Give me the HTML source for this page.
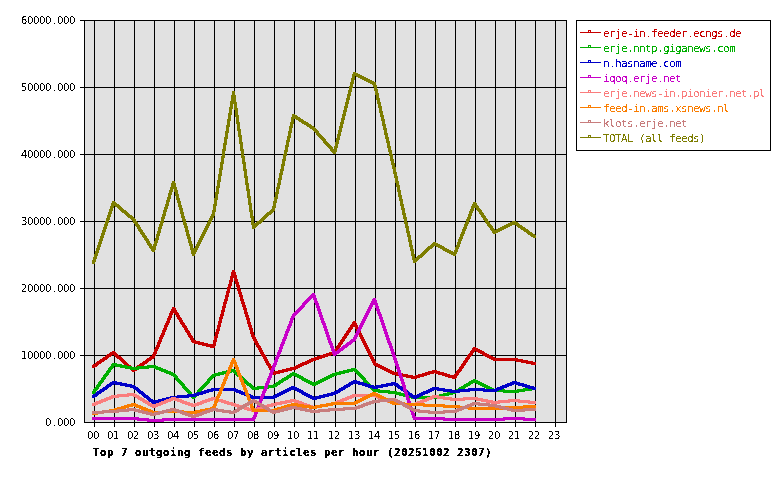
<!DOCTYPE html>
<html lang="en"><head><meta charset="utf-8"><title>Top 7 outgoing feeds by articles per hour</title>
<style>html,body{margin:0;padding:0;background:#fff;overflow:hidden}svg{display:block}text{font-family:"DejaVu Sans Mono","Liberation Mono",monospace;}.s{font-size:11px}.b{font-size:11px;font-weight:bold}.n{font-family:"DejaVu Sans","Liberation Sans",sans-serif;font-size:10px}</style></head><body>
<svg width="780" height="480" viewBox="0 0 780 480" shape-rendering="crispEdges">
<defs><filter id="crisp" x="0" y="0" width="780" height="480" filterUnits="userSpaceOnUse" color-interpolation-filters="sRGB"><feComponentTransfer><feFuncA type="discrete" tableValues="0 1"/></feComponentTransfer></filter><filter id="crispb" x="0" y="0" width="780" height="480" filterUnits="userSpaceOnUse" color-interpolation-filters="sRGB"><feComponentTransfer><feFuncA type="discrete" tableValues="0 1 1"/></feComponentTransfer></filter></defs>
<rect x="0" y="0" width="780" height="480" fill="#fff"/>
<rect x="84" y="20" width="483" height="403" fill="#e1e1e1"/>
<path d="M80 20.5H567M80 87.5H567M80 154.5H567M80 221.5H567M80 288.5H567M80 355.5H567M84 422.5H567M94.5 20V427M114.5 20V427M134.5 20V427M154.5 20V427M174.5 20V427M194.5 20V427M214.5 20V427M234.5 20V427M254.5 20V427M274.5 20V427M294.5 20V427M314.5 20V427M335.5 20V427M355.5 20V427M375.5 20V427M395.5 20V427M415.5 20V427M435.5 20V427M455.5 20V427M475.5 20V427M495.5 20V427M515.5 20V427M535.5 20V427M555.5 20V427M84.5 20V423M566.5 20V423" stroke="#000" stroke-width="1" fill="none"/>
<path d="M92.5 365v3M93.5 364v4M94.5 364v4M95.5 363v4M96.5 362v5M97.5 361v5M98.5 361v4M99.5 360v4M100.5 359v5M101.5 359v4M102.5 358v4M103.5 357v5M104.5 357v4M105.5 356v4M106.5 355v5M107.5 354v5M108.5 354v4M109.5 353v4M110.5 352v5M111.5 352v4M112.5 351v4M113.5 351v4M114.5 351v5M115.5 352v5M116.5 353v5M117.5 354v5M118.5 355v4M119.5 356v4M120.5 356v5M121.5 357v5M122.5 358v5M123.5 359v5M124.5 360v5M125.5 361v5M126.5 362v5M127.5 363v5M128.5 364v4M129.5 365v4M130.5 365v5M131.5 366v5M132.5 367v5M133.5 368v4M134.5 368v4M135.5 367v4M136.5 366v5M137.5 365v5M138.5 365v4M139.5 364v4M140.5 363v5M141.5 363v4M142.5 362v4M143.5 361v5M144.5 361v4M145.5 360v4M146.5 359v5M147.5 358v5M148.5 358v4M149.5 357v4M150.5 356v5M151.5 356v4M152.5 354v5M153.5 352v7M154.5 349v9M155.5 347v9M156.5 345v9M157.5 342v9M158.5 340v9M159.5 337v10M160.5 335v9M161.5 333v9M162.5 330v9M163.5 328v9M164.5 325v10M165.5 323v9M166.5 321v9M167.5 318v9M168.5 316v9M169.5 313v10M170.5 311v9M171.5 309v9M172.5 307v8M173.5 307v6M174.5 307v7M175.5 308v7M176.5 310v7M177.5 312v7M178.5 313v7M179.5 315v7M180.5 317v7M181.5 318v7M182.5 320v7M183.5 322v6M184.5 323v7M185.5 325v7M186.5 326v7M187.5 328v7M188.5 330v7M189.5 331v7M190.5 333v7M191.5 335v7M192.5 336v7M193.5 338v5M194.5 340v4M195.5 340v4M196.5 341v3M197.5 341v3M198.5 341v4M199.5 341v4M200.5 342v3M201.5 342v3M202.5 342v4M203.5 342v4M204.5 343v3M205.5 343v3M206.5 343v4M207.5 343v4M208.5 344v3M209.5 344v3M210.5 344v4M211.5 344v4M212.5 344v4M213.5 340v8M214.5 336v12M215.5 332v14M216.5 329v13M217.5 325v13M218.5 321v13M219.5 317v14M220.5 314v13M221.5 310v13M222.5 306v13M223.5 302v14M224.5 299v13M225.5 295v13M226.5 291v13M227.5 287v14M228.5 284v13M229.5 280v13M230.5 276v13M231.5 272v14M232.5 270v12M233.5 270v8M234.5 270v11M235.5 272v12M236.5 275v12M237.5 279v12M238.5 282v12M239.5 285v12M240.5 289v12M241.5 292v12M242.5 295v12M243.5 299v11M244.5 302v12M245.5 305v12M246.5 308v12M247.5 312v12M248.5 315v12M249.5 318v12M250.5 322v12M251.5 325v12M252.5 328v11M253.5 332v9M254.5 335v8M255.5 337v8M256.5 339v8M257.5 341v7M258.5 343v7M259.5 345v7M260.5 346v8M261.5 348v8M262.5 350v7M263.5 352v7M264.5 354v7M265.5 355v8M266.5 357v8M267.5 359v7M268.5 361v7M269.5 363v7M270.5 364v8M271.5 366v8M272.5 368v7M273.5 370v5M274.5 371v4M275.5 371v4M276.5 371v3M277.5 371v3M278.5 370v4M279.5 370v4M280.5 370v3M281.5 370v3M282.5 369v4M283.5 369v4M284.5 369v3M285.5 369v3M286.5 368v4M287.5 368v4M288.5 368v3M289.5 368v3M290.5 367v4M291.5 367v4M292.5 367v3M293.5 367v3M294.5 366v4M295.5 366v4M296.5 365v4M297.5 365v4M298.5 364v4M299.5 364v4M300.5 363v4M301.5 363v4M302.5 362v4M303.5 362v4M304.5 362v3M305.5 361v4M306.5 361v4M307.5 360v4M308.5 360v4M309.5 359v4M310.5 359v4M311.5 358v4M312.5 358v4M313.5 358v3M314.5 357v4M315.5 357v4M316.5 357v3M317.5 356v4M318.5 356v4M319.5 356v3M320.5 355v4M321.5 355v4M322.5 355v3M323.5 354v4M324.5 354v4M325.5 354v3M326.5 353v4M327.5 353v4M328.5 353v3M329.5 352v4M330.5 352v4M331.5 352v3M332.5 351v4M333.5 351v4M334.5 349v5M335.5 348v6M336.5 346v7M337.5 345v6M338.5 343v7M339.5 342v6M340.5 340v7M341.5 339v6M342.5 337v7M343.5 336v6M344.5 334v7M345.5 333v6M346.5 331v7M347.5 330v6M348.5 328v7M349.5 327v6M350.5 325v7M351.5 324v6M352.5 322v7M353.5 321v6M354.5 321v6M355.5 321v8M356.5 323v8M357.5 325v8M358.5 327v8M359.5 329v8M360.5 331v8M361.5 333v8M362.5 335v8M363.5 337v8M364.5 339v8M365.5 341v8M366.5 343v8M367.5 345v8M368.5 347v8M369.5 349v8M370.5 351v8M371.5 353v8M372.5 355v8M373.5 357v8M374.5 359v7M375.5 361v5M376.5 363v4M377.5 363v4M378.5 364v4M379.5 364v4M380.5 365v4M381.5 365v4M382.5 366v4M383.5 366v4M384.5 367v4M385.5 367v4M386.5 368v4M387.5 368v4M388.5 369v4M389.5 369v4M390.5 370v4M391.5 370v4M392.5 371v4M393.5 371v4M394.5 372v3M395.5 372v3M396.5 372v4M397.5 372v4M398.5 373v3M399.5 373v3M400.5 373v3M401.5 373v4M402.5 373v4M403.5 374v3M404.5 374v3M405.5 374v3M406.5 374v4M407.5 374v4M408.5 375v3M409.5 375v3M410.5 375v3M411.5 375v4M412.5 375v4M413.5 376v3M414.5 376v3M415.5 375v4M416.5 375v4M417.5 375v3M418.5 374v4M419.5 374v4M420.5 374v3M421.5 374v3M422.5 373v4M423.5 373v4M424.5 373v3M425.5 372v4M426.5 372v4M427.5 372v3M428.5 371v4M429.5 371v4M430.5 371v3M431.5 371v3M432.5 370v4M433.5 370v4M434.5 370v3M435.5 370v4M436.5 370v4M437.5 371v3M438.5 371v4M439.5 371v4M440.5 372v3M441.5 372v3M442.5 372v4M443.5 372v4M444.5 373v3M445.5 373v4M446.5 373v4M447.5 374v3M448.5 374v4M449.5 374v4M450.5 375v3M451.5 375v3M452.5 375v4M453.5 375v4M454.5 374v5M455.5 373v6M456.5 371v7M457.5 370v6M458.5 369v6M459.5 367v6M460.5 366v6M461.5 364v7M462.5 363v6M463.5 361v7M464.5 360v6M465.5 358v7M466.5 357v6M467.5 355v7M468.5 354v6M469.5 353v6M470.5 351v6M471.5 350v6M472.5 348v7M473.5 347v6M474.5 347v5M475.5 347v4M476.5 348v4M477.5 348v4M478.5 349v4M479.5 349v4M480.5 350v4M481.5 350v4M482.5 351v4M483.5 351v5M484.5 352v4M485.5 353v4M486.5 353v4M487.5 354v4M488.5 354v4M489.5 355v4M490.5 355v4M491.5 356v4M492.5 356v4M493.5 357v4M494.5 357v4M495.5 358v3M496.5 358v3M497.5 358v3M498.5 358v3M499.5 358v3M500.5 358v3M501.5 358v3M502.5 358v3M503.5 358v3M504.5 358v3M505.5 358v3M506.5 358v3M507.5 358v3M508.5 358v3M509.5 358v3M510.5 358v3M511.5 358v3M512.5 358v3M513.5 358v3M514.5 358v3M515.5 358v3M516.5 358v4M517.5 358v4M518.5 359v3M519.5 359v3M520.5 359v3M521.5 359v4M522.5 359v4M523.5 360v3M524.5 360v3M525.5 360v3M526.5 360v4M527.5 360v4M528.5 361v3M529.5 361v3M530.5 361v3M531.5 361v4M532.5 361v4M533.5 362v3M534.5 362v3M535.5 362v3" stroke="#c80000" stroke-width="1" fill="none"/>
<path d="M112 363.5h5M111 364.5h11M111 365.5h16M147 365.5h9M110 366.5h4M115 366.5h17M137 366.5h21M109 367.5h5M120 367.5h41M108 368.5h5M125 368.5h24M154 368.5h9M351 368.5h5M108 369.5h4M130 369.5h9M156 369.5h10M230 369.5h5M347 369.5h10M107 370.5h4M159 370.5h9M226 370.5h10M343 370.5h15M106 371.5h5M161 371.5h10M222 371.5h15M339 371.5h14M354 371.5h5M106 372.5h4M164 372.5h9M218 372.5h14M233 372.5h5M292 372.5h3M335 372.5h14M355 372.5h5M105 373.5h4M166 373.5h9M214 373.5h14M234 373.5h5M290 373.5h7M332 373.5h13M356 373.5h5M104 374.5h5M169 374.5h7M212 374.5h12M235 374.5h6M289 374.5h10M330 374.5h11M357 374.5h5M103 375.5h5M171 375.5h6M211 375.5h9M236 375.5h6M287 375.5h14M328 375.5h9M358 375.5h5M103 376.5h4M173 376.5h5M210 376.5h6M237 376.5h6M286 376.5h6M295 376.5h8M326 376.5h8M359 376.5h5M102 377.5h4M174 377.5h4M209 377.5h5M239 377.5h5M284 377.5h7M297 377.5h7M324 377.5h8M360 377.5h5M101 378.5h5M175 378.5h4M208 378.5h5M240 378.5h5M282 378.5h7M299 378.5h7M322 378.5h8M361 378.5h5M101 379.5h4M175 379.5h5M207 379.5h5M241 379.5h5M281 379.5h7M301 379.5h7M320 379.5h8M362 379.5h4M473 379.5h3M100 380.5h4M176 380.5h5M207 380.5h4M242 380.5h5M279 380.5h7M302 380.5h8M318 380.5h8M363 380.5h4M471 380.5h7M99 381.5h5M177 381.5h5M206 381.5h4M243 381.5h5M278 381.5h6M304 381.5h8M316 381.5h8M363 381.5h5M469 381.5h11M98 382.5h5M178 382.5h5M205 382.5h5M244 382.5h5M276 382.5h7M306 382.5h16M364 382.5h5M468 382.5h14M98 383.5h4M179 383.5h5M204 383.5h5M245 383.5h6M275 383.5h6M308 383.5h12M365 383.5h5M466 383.5h7M476 383.5h8M97 384.5h4M180 384.5h5M203 384.5h5M246 384.5h6M273 384.5h7M310 384.5h8M366 384.5h5M464 384.5h7M478 384.5h8M96 385.5h5M181 385.5h4M202 385.5h5M247 385.5h6M267 385.5h11M312 385.5h4M367 385.5h5M463 385.5h7M480 385.5h8M96 386.5h4M182 386.5h4M201 386.5h5M249 386.5h5M257 386.5h20M368 386.5h5M461 386.5h7M482 386.5h8M95 387.5h4M182 387.5h5M200 387.5h5M250 387.5h25M369 387.5h5M459 387.5h7M484 387.5h8M530 387.5h6M94 388.5h5M183 388.5h5M199 388.5h5M251 388.5h18M370 388.5h5M458 388.5h7M486 388.5h8M523 388.5h13M93 389.5h5M184 389.5h5M198 389.5h5M252 389.5h7M371 389.5h9M456 389.5h7M488 389.5h17M517 389.5h19M93 390.5h4M185 390.5h5M197 390.5h5M372 390.5h18M454 390.5h7M490 390.5h42M92 391.5h4M186 391.5h5M197 391.5h4M373 391.5h24M451 391.5h9M492 391.5h33M92 392.5h4M187 392.5h5M196 392.5h4M378 392.5h23M447 392.5h11M503 392.5h16M92 393.5h3M188 393.5h4M195 393.5h5M388 393.5h17M443 393.5h13M189 394.5h4M194 394.5h5M395 394.5h14M439 394.5h14M189 395.5h9M399 395.5h14M435 395.5h14M190 396.5h7M403 396.5h42M191 397.5h5M407 397.5h34M192 398.5h3M411 398.5h26" stroke="#00af00" stroke-width="1" fill="none"/>
<path d="M353 380.5h4M112 381.5h5M351 381.5h9M512 381.5h5M110 382.5h12M349 382.5h15M391 382.5h5M510 382.5h10M109 383.5h18M348 383.5h19M386 383.5h12M507 383.5h17M107 384.5h7M115 384.5h17M346 384.5h7M358 384.5h12M381 384.5h18M505 384.5h9M515 384.5h12M106 385.5h6M120 385.5h15M344 385.5h7M362 385.5h12M376 385.5h17M394 385.5h6M502 385.5h10M518 385.5h12M105 386.5h6M125 386.5h11M291 386.5h4M343 386.5h7M365 386.5h23M396 386.5h6M500 386.5h9M522 386.5h12M103 387.5h6M130 387.5h8M289 387.5h8M341 387.5h7M368 387.5h15M397 387.5h6M432 387.5h7M497 387.5h10M525 387.5h11M102 388.5h6M133 388.5h6M211 388.5h25M287 388.5h12M339 388.5h7M372 388.5h6M398 388.5h7M430 388.5h15M468 388.5h17M495 388.5h9M528 388.5h8M100 389.5h7M134 389.5h6M207 389.5h31M285 389.5h16M338 389.5h7M400 389.5h6M428 389.5h24M458 389.5h44M532 389.5h4M99 390.5h6M136 390.5h5M204 390.5h37M283 390.5h8M295 390.5h8M336 390.5h7M401 390.5h7M426 390.5h8M437 390.5h62M97 391.5h7M137 391.5h6M201 391.5h12M234 391.5h9M281 391.5h8M297 391.5h7M334 391.5h7M403 391.5h6M423 391.5h9M443 391.5h27M483 391.5h14M96 392.5h6M138 392.5h6M197 392.5h12M236 392.5h10M279 392.5h8M299 392.5h7M331 392.5h9M404 392.5h6M421 392.5h9M450 392.5h10M95 393.5h6M139 393.5h6M194 393.5h12M239 393.5h9M277 393.5h8M301 393.5h7M327 393.5h11M406 393.5h6M419 393.5h9M93 394.5h6M141 394.5h5M187 394.5h16M241 394.5h10M275 394.5h8M302 394.5h8M323 394.5h13M407 394.5h6M417 394.5h8M92 395.5h6M142 395.5h6M177 395.5h22M244 395.5h9M273 395.5h8M304 395.5h8M319 395.5h14M408 395.5h15M92 396.5h5M143 396.5h6M170 396.5h26M246 396.5h33M306 396.5h8M315 396.5h14M410 396.5h11M92 397.5h3M144 397.5h6M166 397.5h23M249 397.5h28M308 397.5h17M411 397.5h8M146 398.5h5M162 398.5h17M251 398.5h24M310 398.5h11M413 398.5h4M147 399.5h6M158 399.5h14M312 399.5h5M148 400.5h20M149 401.5h15M151 402.5h9M152 403.5h4" stroke="#0000c8" stroke-width="1" fill="none"/>
<path d="M312 293.5h3M311 294.5h4M310 295.5h6M309 296.5h7M308 297.5h8M307 298.5h5M313 298.5h4M373 298.5h3M306 299.5h5M313 299.5h4M372 299.5h4M305 300.5h5M314 300.5h3M372 300.5h5M304 301.5h5M314 301.5h4M371 301.5h6M303 302.5h5M314 302.5h4M371 302.5h6M302 303.5h5M315 303.5h4M370 303.5h8M302 304.5h4M315 304.5h4M370 304.5h8M301 305.5h4M316 305.5h3M369 305.5h4M375 305.5h3M300 306.5h5M316 306.5h4M369 306.5h4M375 306.5h4M299 307.5h5M316 307.5h4M368 307.5h4M375 307.5h4M298 308.5h5M317 308.5h3M368 308.5h4M376 308.5h3M297 309.5h5M317 309.5h4M367 309.5h4M376 309.5h4M296 310.5h5M317 310.5h4M367 310.5h4M376 310.5h4M295 311.5h5M318 311.5h3M366 311.5h4M377 311.5h3M294 312.5h5M318 312.5h4M366 312.5h4M377 312.5h4M293 313.5h5M318 313.5h4M365 313.5h4M377 313.5h4M292 314.5h5M319 314.5h3M365 314.5h4M378 314.5h4M292 315.5h4M319 315.5h4M364 315.5h4M378 315.5h4M291 316.5h4M319 316.5h4M364 316.5h4M379 316.5h3M291 317.5h4M320 317.5h3M363 317.5h4M379 317.5h4M290 318.5h4M320 318.5h4M363 318.5h4M379 318.5h4M290 319.5h4M320 319.5h4M362 319.5h4M380 319.5h3M290 320.5h3M321 320.5h3M362 320.5h4M380 320.5h4M289 321.5h4M321 321.5h4M361 321.5h4M380 321.5h4M289 322.5h4M321 322.5h4M361 322.5h4M381 322.5h3M289 323.5h3M322 323.5h4M360 323.5h4M381 323.5h4M288 324.5h4M322 324.5h4M360 324.5h4M381 324.5h4M288 325.5h4M323 325.5h3M359 325.5h4M382 325.5h3M287 326.5h4M323 326.5h4M359 326.5h4M382 326.5h4M287 327.5h4M323 327.5h4M358 327.5h4M382 327.5h4M287 328.5h3M324 328.5h3M358 328.5h4M383 328.5h3M286 329.5h4M324 329.5h4M357 329.5h4M383 329.5h4M286 330.5h4M324 330.5h4M357 330.5h4M383 330.5h4M285 331.5h4M325 331.5h3M356 331.5h4M384 331.5h3M285 332.5h4M325 332.5h4M356 332.5h4M384 332.5h4M285 333.5h3M325 333.5h4M355 333.5h4M384 333.5h4M284 334.5h4M326 334.5h3M355 334.5h4M385 334.5h3M284 335.5h4M326 335.5h4M354 335.5h4M385 335.5h4M284 336.5h3M326 336.5h4M354 336.5h4M385 336.5h4M283 337.5h4M327 337.5h3M353 337.5h4M386 337.5h3M283 338.5h4M327 338.5h4M353 338.5h4M386 338.5h4M282 339.5h4M327 339.5h4M351 339.5h5M386 339.5h4M282 340.5h4M328 340.5h3M350 340.5h6M387 340.5h3M282 341.5h3M328 341.5h4M349 341.5h6M387 341.5h4M281 342.5h4M328 342.5h4M347 342.5h6M387 342.5h4M281 343.5h4M329 343.5h4M346 343.5h6M388 343.5h4M280 344.5h4M329 344.5h4M345 344.5h6M388 344.5h4M280 345.5h4M330 345.5h3M343 345.5h6M389 345.5h3M280 346.5h3M330 346.5h4M342 346.5h6M389 346.5h4M279 347.5h4M330 347.5h4M341 347.5h6M389 347.5h4M279 348.5h4M331 348.5h3M339 348.5h6M390 348.5h3M279 349.5h3M331 349.5h4M338 349.5h6M390 349.5h4M278 350.5h4M331 350.5h4M337 350.5h6M390 350.5h4M278 351.5h4M332 351.5h9M391 351.5h3M277 352.5h4M332 352.5h8M391 352.5h4M277 353.5h4M332 353.5h7M391 353.5h4M277 354.5h3M333 354.5h4M392 354.5h3M276 355.5h4M333 355.5h3M392 355.5h4M276 356.5h4M392 356.5h4M275 357.5h4M393 357.5h3M275 358.5h4M393 358.5h4M275 359.5h3M393 359.5h4M274 360.5h4M394 360.5h3M274 361.5h4M394 361.5h4M274 362.5h3M394 362.5h4M273 363.5h4M395 363.5h3M273 364.5h4M395 364.5h4M272 365.5h4M395 365.5h4M272 366.5h4M396 366.5h3M272 367.5h3M396 367.5h4M271 368.5h4M396 368.5h4M271 369.5h4M397 369.5h3M270 370.5h4M397 370.5h4M270 371.5h4M397 371.5h4M270 372.5h3M398 372.5h3M269 373.5h4M398 373.5h4M269 374.5h4M398 374.5h4M269 375.5h3M399 375.5h3M268 376.5h4M399 376.5h4M268 377.5h4M399 377.5h4M267 378.5h4M400 378.5h3M267 379.5h4M400 379.5h4M267 380.5h3M400 380.5h4M266 381.5h4M401 381.5h3M266 382.5h4M401 382.5h4M265 383.5h4M401 383.5h4M265 384.5h4M402 384.5h3M265 385.5h3M402 385.5h4M264 386.5h4M402 386.5h4M264 387.5h4M403 387.5h3M264 388.5h3M403 388.5h3M263 389.5h4M403 389.5h4M263 390.5h4M403 390.5h4M262 391.5h4M404 391.5h3M262 392.5h4M404 392.5h4M262 393.5h3M404 393.5h4M261 394.5h4M405 394.5h3M261 395.5h4M405 395.5h4M260 396.5h4M405 396.5h4M260 397.5h4M406 397.5h3M260 398.5h3M406 398.5h4M259 399.5h4M406 399.5h4M259 400.5h4M407 400.5h3M259 401.5h3M407 401.5h4M258 402.5h4M407 402.5h4M258 403.5h4M408 403.5h3M257 404.5h4M408 404.5h4M257 405.5h4M408 405.5h4M257 406.5h3M409 406.5h3M256 407.5h4M409 407.5h4M256 408.5h4M409 408.5h4M255 409.5h4M410 409.5h3M255 410.5h4M410 410.5h4M255 411.5h3M410 411.5h4M254 412.5h4M411 412.5h3M254 413.5h4M411 413.5h4M254 414.5h3M411 414.5h4M253 415.5h4M412 415.5h3M253 416.5h4M412 416.5h4M92 417.5h47M252 417.5h4M412 417.5h33M503 417.5h22M92 418.5h57M162 418.5h94M413 418.5h123M92 419.5h163M413 419.5h123M137 420.5h118M443 420.5h62M523 420.5h13M147 421.5h17" stroke="#c800c8" stroke-width="1" fill="none"/>
<path d="M127 393.5h8M117 394.5h20M352 394.5h25M111 395.5h28M350 395.5h29M432 395.5h7M109 396.5h20M133 396.5h7M347 396.5h35M430 396.5h15M106 397.5h13M135 397.5h7M171 397.5h5M211 397.5h5M345 397.5h9M375 397.5h9M427 397.5h25M463 397.5h15M104 398.5h9M137 398.5h7M169 398.5h10M208 398.5h11M342 398.5h10M377 398.5h10M425 398.5h9M437 398.5h46M101 399.5h10M138 399.5h7M166 399.5h16M205 399.5h18M290 399.5h6M340 399.5h9M380 399.5h9M422 399.5h10M443 399.5h45M508 399.5h12M99 400.5h9M140 400.5h7M164 400.5h9M174 400.5h10M202 400.5h11M214 400.5h12M285 400.5h14M337 400.5h10M382 400.5h10M420 400.5h9M450 400.5h15M476 400.5h17M498 400.5h32M96 401.5h10M142 401.5h7M161 401.5h10M177 401.5h10M200 401.5h10M217 401.5h12M280 401.5h22M335 401.5h9M385 401.5h9M417 401.5h10M481 401.5h55M94 402.5h9M143 402.5h7M159 402.5h9M180 402.5h10M197 402.5h10M221 402.5h12M275 402.5h17M294 402.5h10M331 402.5h11M387 402.5h18M415 402.5h9M486 402.5h24M518 402.5h18M92 403.5h9M145 403.5h7M156 403.5h10M182 403.5h11M194 403.5h10M224 403.5h12M271 403.5h16M297 403.5h10M326 403.5h13M390 403.5h32M491 403.5h9M528 403.5h8M92 404.5h6M147 404.5h16M185 404.5h17M227 404.5h12M267 404.5h15M300 404.5h10M320 404.5h17M392 404.5h27M92 405.5h4M148 405.5h13M188 405.5h11M231 405.5h12M264 405.5h13M302 405.5h11M315 405.5h18M403 405.5h14M150 406.5h8M191 406.5h5M234 406.5h12M261 406.5h12M305 406.5h23M152 407.5h4M237 407.5h12M257 407.5h12M308 407.5h14M241 408.5h12M254 408.5h12M311 408.5h6M244 409.5h19M247 410.5h12M251 411.5h5" stroke="#fa7d7d" stroke-width="1" fill="none"/>
<path d="M232 358.5h3M232 359.5h3M231 360.5h5M231 361.5h5M230 362.5h7M230 363.5h7M230 364.5h3M234 364.5h3M229 365.5h4M234 365.5h4M229 366.5h4M234 366.5h4M228 367.5h4M235 367.5h4M228 368.5h4M235 368.5h4M228 369.5h3M236 369.5h3M227 370.5h4M236 370.5h4M227 371.5h4M236 371.5h4M226 372.5h4M237 372.5h3M226 373.5h4M237 373.5h4M225 374.5h4M237 374.5h4M225 375.5h4M238 375.5h4M225 376.5h3M238 376.5h4M224 377.5h4M239 377.5h3M224 378.5h4M239 378.5h4M223 379.5h4M239 379.5h4M223 380.5h4M240 380.5h4M223 381.5h3M240 381.5h4M222 382.5h4M241 382.5h3M222 383.5h4M241 383.5h4M221 384.5h4M241 384.5h4M221 385.5h4M242 385.5h4M221 386.5h3M242 386.5h4M220 387.5h4M243 387.5h3M220 388.5h4M243 388.5h4M219 389.5h4M243 389.5h4M219 390.5h4M244 390.5h4M219 391.5h3M244 391.5h4M218 392.5h4M245 392.5h3M372 392.5h4M218 393.5h4M245 393.5h4M370 393.5h8M217 394.5h4M245 394.5h4M368 394.5h12M217 395.5h4M246 395.5h4M366 395.5h16M216 396.5h4M246 396.5h4M364 396.5h8M376 396.5h8M216 397.5h4M247 397.5h3M362 397.5h8M378 397.5h8M216 398.5h3M247 398.5h4M360 398.5h8M380 398.5h8M215 399.5h4M247 399.5h4M358 399.5h8M382 399.5h8M215 400.5h4M248 400.5h3M356 400.5h8M384 400.5h8M214 401.5h4M248 401.5h4M354 401.5h8M386 401.5h8M214 402.5h4M248 402.5h4M331 402.5h29M388 402.5h17M131 403.5h5M214 403.5h3M249 403.5h4M291 403.5h7M326 403.5h32M390 403.5h35M127 404.5h11M213 404.5h4M249 404.5h4M287 404.5h17M320 404.5h36M392 404.5h53M124 405.5h17M213 405.5h4M250 405.5h3M284 405.5h27M315 405.5h18M403 405.5h57M523 405.5h13M121 406.5h12M134 406.5h9M212 406.5h4M250 406.5h4M281 406.5h12M296 406.5h32M423 406.5h47M503 406.5h33M117 407.5h12M136 407.5h10M210 407.5h6M250 407.5h4M277 407.5h12M302 407.5h20M443 407.5h93M114 408.5h12M139 408.5h9M205 408.5h10M251 408.5h4M274 408.5h12M309 408.5h8M458 408.5h67M109 409.5h14M141 409.5h10M200 409.5h15M251 409.5h32M468 409.5h37M102 410.5h17M144 410.5h9M162 410.5h22M195 410.5h17M252 410.5h27M96 411.5h20M146 411.5h61M252 411.5h24M92 412.5h19M149 412.5h53M92 413.5h12M151 413.5h13M182 413.5h15M92 414.5h6" stroke="#fa7d00" stroke-width="1" fill="none"/>
<path d="M388 398.5h8M252 399.5h3M378 399.5h20M250 400.5h7M372 400.5h28M248 401.5h11M369 401.5h21M394 401.5h8M247 402.5h13M366 402.5h14M396 402.5h8M472 402.5h8M245 403.5h7M255 403.5h7M363 403.5h11M398 403.5h7M470 403.5h20M243 404.5h7M257 404.5h7M361 404.5h10M400 404.5h7M467 404.5h30M242 405.5h7M258 405.5h7M358 405.5h10M402 405.5h7M465 405.5h9M478 405.5h23M240 406.5h7M260 406.5h7M290 406.5h7M355 406.5h10M403 406.5h8M462 406.5h10M488 406.5h17M238 407.5h7M262 407.5h7M286 407.5h16M343 407.5h20M405 407.5h8M460 407.5h9M495 407.5h14M127 408.5h9M170 408.5h6M211 408.5h7M237 408.5h7M263 408.5h7M282 408.5h25M328 408.5h32M407 408.5h8M457 408.5h10M499 408.5h14M523 408.5h13M117 409.5h23M166 409.5h13M208 409.5h16M235 409.5h7M265 409.5h7M278 409.5h14M295 409.5h17M318 409.5h39M409 409.5h11M455 409.5h9M503 409.5h33M102 410.5h42M162 410.5h20M205 410.5h26M233 410.5h7M267 410.5h21M300 410.5h45M411 410.5h19M443 410.5h19M507 410.5h29M92 411.5h37M134 411.5h14M158 411.5h14M174 411.5h10M202 411.5h11M216 411.5h23M268 411.5h16M305 411.5h25M413 411.5h46M511 411.5h14M92 412.5h27M138 412.5h14M154 412.5h14M177 412.5h10M200 412.5h10M222 412.5h15M270 412.5h10M310 412.5h10M418 412.5h39M92 413.5h12M142 413.5h22M180 413.5h10M197 413.5h10M229 413.5h6M272 413.5h4M428 413.5h17M146 414.5h14M182 414.5h11M194 414.5h10M150 415.5h6M185 415.5h17M188 416.5h11M191 417.5h5" stroke="#c87d7d" stroke-width="1" fill="none"/>
<path d="M92.5 260v4M93.5 257v7M94.5 254v10M95.5 251v11M96.5 248v11M97.5 245v11M98.5 242v11M99.5 239v11M100.5 236v11M101.5 233v11M102.5 230v11M103.5 227v11M104.5 224v11M105.5 221v11M106.5 218v11M107.5 215v11M108.5 212v11M109.5 209v11M110.5 206v11M111.5 203v11M112.5 201v10M113.5 201v7M114.5 201v5M115.5 202v5M116.5 203v4M117.5 204v4M118.5 204v5M119.5 205v5M120.5 206v5M121.5 207v5M122.5 208v5M123.5 209v4M124.5 210v4M125.5 210v5M126.5 211v5M127.5 212v5M128.5 213v5M129.5 214v4M130.5 215v4M131.5 215v5M132.5 216v5M133.5 217v6M134.5 218v6M135.5 219v7M136.5 221v6M137.5 222v7M138.5 224v7M139.5 225v7M140.5 227v7M141.5 229v6M142.5 230v7M143.5 232v6M144.5 233v7M145.5 235v6M146.5 236v7M147.5 238v7M148.5 239v7M149.5 241v7M150.5 243v6M151.5 244v7M152.5 246v6M153.5 244v8M154.5 241v11M155.5 238v12M156.5 234v12M157.5 231v12M158.5 227v13M159.5 224v12M160.5 221v12M161.5 217v12M162.5 214v12M163.5 210v13M164.5 207v12M165.5 204v12M166.5 200v12M167.5 197v12M168.5 193v13M169.5 190v12M170.5 187v12M171.5 183v12M172.5 181v11M173.5 181v8M174.5 181v11M175.5 183v13M176.5 187v13M177.5 190v13M178.5 194v13M179.5 198v12M180.5 201v13M181.5 205v13M182.5 208v13M183.5 212v13M184.5 216v12M185.5 219v13M186.5 223v13M187.5 226v13M188.5 230v13M189.5 234v12M190.5 237v13M191.5 241v13M192.5 244v12M193.5 248v8M194.5 248v8M195.5 246v8M196.5 244v8M197.5 242v8M198.5 240v8M199.5 238v8M200.5 236v8M201.5 234v8M202.5 232v8M203.5 230v8M204.5 228v8M205.5 226v8M206.5 224v8M207.5 222v8M208.5 220v8M209.5 218v8M210.5 216v8M211.5 214v8M212.5 210v10M213.5 204v14M214.5 198v18M215.5 192v20M216.5 186v20M217.5 180v20M218.5 174v20M219.5 168v20M220.5 162v20M221.5 156v20M222.5 149v21M223.5 143v21M224.5 137v21M225.5 131v20M226.5 125v20M227.5 119v20M228.5 113v20M229.5 107v20M230.5 101v20M231.5 95v20M232.5 91v18M233.5 91v13M234.5 91v19M235.5 95v22M236.5 102v22M237.5 108v23M238.5 115v22M239.5 122v22M240.5 129v22M241.5 135v23M242.5 142v22M243.5 149v22M244.5 156v22M245.5 162v23M246.5 169v22M247.5 176v22M248.5 183v22M249.5 189v23M250.5 196v22M251.5 203v22M252.5 210v19M253.5 216v13M254.5 223v6M255.5 223v5M256.5 222v5M257.5 221v5M258.5 221v4M259.5 220v4M260.5 219v5M261.5 218v5M262.5 217v5M263.5 216v5M264.5 215v5M265.5 214v5M266.5 213v5M267.5 212v5M268.5 212v4M269.5 211v4M270.5 210v5M271.5 209v5M272.5 206v7M273.5 201v11M274.5 197v14M275.5 192v16M276.5 187v16M277.5 183v16M278.5 178v16M279.5 173v16M280.5 169v16M281.5 164v16M282.5 159v16M283.5 154v17M284.5 150v16M285.5 145v16M286.5 140v16M287.5 136v16M288.5 131v16M289.5 126v16M290.5 122v16M291.5 117v16M292.5 114v14M293.5 114v10M294.5 114v5M295.5 115v4M296.5 115v5M297.5 116v4M298.5 117v4M299.5 117v5M300.5 118v4M301.5 119v4M302.5 119v5M303.5 120v4M304.5 121v4M305.5 121v4M306.5 122v4M307.5 122v5M308.5 123v4M309.5 124v4M310.5 124v5M311.5 125v4M312.5 126v4M313.5 126v5M314.5 127v5M315.5 128v5M316.5 129v6M317.5 130v6M318.5 131v6M319.5 133v5M320.5 134v5M321.5 135v5M322.5 136v5M323.5 137v6M324.5 138v6M325.5 139v6M326.5 141v5M327.5 142v5M328.5 143v5M329.5 144v5M330.5 145v6M331.5 146v6M332.5 147v6M333.5 149v5M334.5 146v8M335.5 142v12M336.5 138v14M337.5 134v14M338.5 130v14M339.5 126v14M340.5 122v14M341.5 118v14M342.5 114v14M343.5 110v14M344.5 106v14M345.5 102v14M346.5 98v14M347.5 94v14M348.5 90v14M349.5 86v14M350.5 82v14M351.5 78v14M352.5 74v14M353.5 72v12M354.5 72v8M355.5 72v4M356.5 73v4M357.5 73v4M358.5 74v4M359.5 74v4M360.5 75v4M361.5 75v4M362.5 76v4M363.5 76v4M364.5 77v4M365.5 77v4M366.5 78v4M367.5 78v4M368.5 79v4M369.5 79v4M370.5 80v4M371.5 80v4M372.5 81v4M373.5 81v6M374.5 82v9M375.5 82v13M376.5 85v15M377.5 89v15M378.5 93v15M379.5 98v15M380.5 102v15M381.5 106v15M382.5 111v15M383.5 115v15M384.5 119v16M385.5 124v15M386.5 128v15M387.5 133v15M388.5 137v15M389.5 141v15M390.5 146v15M391.5 150v15M392.5 154v15M393.5 159v15M394.5 163v15M395.5 167v16M396.5 172v15M397.5 176v16M398.5 181v16M399.5 185v16M400.5 190v16M401.5 195v15M402.5 199v16M403.5 204v15M404.5 208v16M405.5 213v15M406.5 217v16M407.5 222v15M408.5 226v16M409.5 231v16M410.5 235v16M411.5 240v16M412.5 245v15M413.5 249v14M414.5 254v9M415.5 258v5M416.5 257v5M417.5 256v5M418.5 255v5M419.5 255v4M420.5 254v4M421.5 253v5M422.5 252v5M423.5 251v5M424.5 250v5M425.5 249v5M426.5 248v5M427.5 247v5M428.5 246v5M429.5 246v4M430.5 245v4M431.5 244v5M432.5 243v5M433.5 242v5M434.5 242v4M435.5 242v4M436.5 243v4M437.5 243v4M438.5 244v4M439.5 244v4M440.5 245v4M441.5 245v4M442.5 246v4M443.5 246v5M444.5 247v4M445.5 248v4M446.5 248v4M447.5 249v4M448.5 249v4M449.5 250v4M450.5 250v4M451.5 251v4M452.5 251v4M453.5 252v4M454.5 250v6M455.5 247v9M456.5 245v9M457.5 242v10M458.5 239v10M459.5 237v10M460.5 234v10M461.5 232v9M462.5 229v10M463.5 227v9M464.5 224v10M465.5 222v9M466.5 219v10M467.5 217v9M468.5 214v10M469.5 211v10M470.5 209v10M471.5 206v10M472.5 204v9M473.5 202v9M474.5 202v6M475.5 202v6M476.5 203v7M477.5 205v6M478.5 206v6M479.5 208v6M480.5 209v6M481.5 210v7M482.5 212v6M483.5 213v7M484.5 215v6M485.5 216v7M486.5 218v6M487.5 219v7M488.5 221v6M489.5 222v6M490.5 224v6M491.5 225v6M492.5 226v7M493.5 228v6M494.5 229v5M495.5 230v4M496.5 229v4M497.5 229v4M498.5 228v4M499.5 228v4M500.5 227v4M501.5 227v4M502.5 226v4M503.5 226v4M504.5 225v4M505.5 225v4M506.5 224v4M507.5 224v4M508.5 223v4M509.5 223v4M510.5 222v4M511.5 222v4M512.5 221v4M513.5 221v4M514.5 221v4M515.5 221v4M516.5 222v4M517.5 222v5M518.5 223v5M519.5 224v4M520.5 225v4M521.5 225v5M522.5 226v4M523.5 227v4M524.5 227v5M525.5 228v4M526.5 229v4M527.5 229v5M528.5 230v5M529.5 231v4M530.5 232v4M531.5 232v5M532.5 233v4M533.5 234v4M534.5 234v4M535.5 235v3" stroke="#7d7d00" stroke-width="1" fill="none"/>
<g filter="url(#crisp)">
<text class="n" x="21 27 33 39 45 52.5 57 63 69" y="24">60000.000</text>
<text class="n" x="21 27 33 39 45 52.5 57 63 69" y="91">50000.000</text>
<text class="n" x="21 27 33 39 45 52.5 57 63 69" y="158">40000.000</text>
<text class="n" x="21 27 33 39 45 52.5 57 63 69" y="225">30000.000</text>
<text class="n" x="21 27 33 39 45 52.5 57 63 69" y="292">20000.000</text>
<text class="n" x="21 27 33 39 45 52.5 57 63 69" y="359">10000.000</text>
<text class="n" x="45 52.5 57 63 69" y="426">0.000</text>
<text class="n" x="87 93" y="439">00</text>
<text class="n" x="107 113" y="439">01</text>
<text class="n" x="127 133" y="439">02</text>
<text class="n" x="147 153" y="439">03</text>
<text class="n" x="167 173" y="439">04</text>
<text class="n" x="187 193" y="439">05</text>
<text class="n" x="207 213" y="439">06</text>
<text class="n" x="227 233" y="439">07</text>
<text class="n" x="247 253" y="439">08</text>
<text class="n" x="267 273" y="439">09</text>
<text class="n" x="287 293" y="439">10</text>
<text class="n" x="307 313" y="439">11</text>
<text class="n" x="328 334" y="439">12</text>
<text class="n" x="348 354" y="439">13</text>
<text class="n" x="368 374" y="439">14</text>
<text class="n" x="388 394" y="439">15</text>
<text class="n" x="408 414" y="439">16</text>
<text class="n" x="428 434" y="439">17</text>
<text class="n" x="448 454" y="439">18</text>
<text class="n" x="468 474" y="439">19</text>
<text class="n" x="488 494" y="439">20</text>
<text class="n" x="508 514" y="439">21</text>
<text class="n" x="528 534" y="439">22</text>
<text class="n" x="548 554" y="439">23</text>
</g>
<g filter="url(#crispb)"><text class="b" x="93 100 107 114 121 128 135 142 149 156 163 170 177 184 191 198 205 212 219 226 233 240 247 254 261 268 275 282 289 296 303 310 317 324 331 338 345 352 359 366 373 380 387 394 401 408 415 422 429 436 443 450 457 464 471 478 485" y="456">Top 7 outgoing feeds by articles per hour (20251002 2307)</text></g>
<rect x="576.5" y="20.5" width="194" height="130" fill="#fff" stroke="#000" stroke-width="1"/>
<path d="M580 32.5H601" stroke="#c80000" stroke-width="1" fill="none"/>
<rect x="588.5" y="30.5" width="2" height="2" fill="#fff" stroke="#c80000" stroke-width="1"/>
<g filter="url(#crisp)"><text class="s" x="603 609 615 621 627 633 639 645 651 657 663 669 675 681 687 693 699 705 711 717 723 729 735" y="37" fill="#c80000">erje-in.feeder.ecngs.de</text></g>
<path d="M580 47.5H601" stroke="#00af00" stroke-width="1" fill="none"/>
<rect x="588.5" y="45.5" width="2" height="2" fill="#fff" stroke="#00af00" stroke-width="1"/>
<g filter="url(#crisp)"><text class="s" x="603 609 615 621 627 633 639 645 651 657 663 669 675 681 687 693 699 705 711 717 723 729.25" y="52" fill="#00af00">erje.nntp.giganews.com</text></g>
<path d="M580 62.5H601" stroke="#0000c8" stroke-width="1" fill="none"/>
<rect x="588.5" y="60.5" width="2" height="2" fill="#fff" stroke="#0000c8" stroke-width="1"/>
<g filter="url(#crisp)"><text class="s" x="603 609 615 621 627 633 639 645.25 651 657 663 669 675.25" y="67" fill="#0000c8">n.hasname.com</text></g>
<path d="M580 77.5H601" stroke="#c800c8" stroke-width="1" fill="none"/>
<rect x="588.5" y="75.5" width="2" height="2" fill="#fff" stroke="#c800c8" stroke-width="1"/>
<g filter="url(#crisp)"><text class="s" x="603 609 615 621 627 633 639 645 651 657 663 669 675" y="82" fill="#c800c8">iqoq.erje.net</text></g>
<path d="M580 92.5H601" stroke="#fa7d7d" stroke-width="1" fill="none"/>
<rect x="588.5" y="90.5" width="2" height="2" fill="#fff" stroke="#fa7d7d" stroke-width="1"/>
<g filter="url(#crisp)"><text class="s" x="603 609 615 621 627 633 639 645 651 657 663 669 675 681 687 693 699 705 711 717 723 729 735 741 747 753 759" y="97" fill="#fa7d7d">erje.news-in.pionier.net.pl</text></g>
<path d="M580 107.5H601" stroke="#fa7d00" stroke-width="1" fill="none"/>
<rect x="588.5" y="105.5" width="2" height="2" fill="#fff" stroke="#fa7d00" stroke-width="1"/>
<g filter="url(#crisp)"><text class="s" x="603 609 615 621 627 633 639 645 651 657.25 663 669 675 681 687 693 699 705 711 717 723" y="112" fill="#fa7d00">feed-in.ams.xsnews.nl</text></g>
<path d="M580 122.5H601" stroke="#c87d7d" stroke-width="1" fill="none"/>
<rect x="588.5" y="120.5" width="2" height="2" fill="#fff" stroke="#c87d7d" stroke-width="1"/>
<g filter="url(#crisp)"><text class="s" x="603 609 615 621 627 633 639 645 651 657 663 669 675 681" y="127" fill="#c87d7d">klots.erje.net</text></g>
<path d="M580 137.5H601" stroke="#7d7d00" stroke-width="1" fill="none"/>
<rect x="588.5" y="135.5" width="2" height="2" fill="#fff" stroke="#7d7d00" stroke-width="1"/>
<g filter="url(#crisp)"><text class="s" x="603 609 615 621 627 633 639 645 651 657 663 669 675 681 687 693 699" y="142" fill="#7d7d00">TOTAL (all feeds)</text></g>
</svg></body></html>
